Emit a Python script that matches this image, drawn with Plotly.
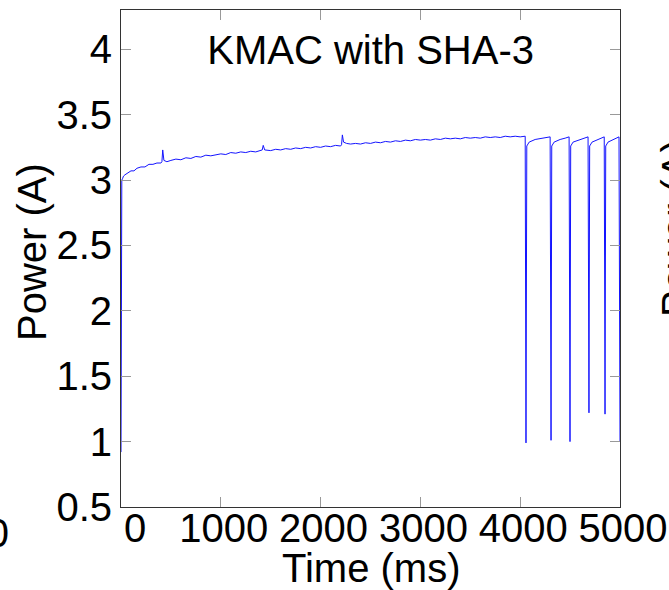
import plotly.graph_objects as go

# ---- data ----
time_ms = [0, 3, 8, 15, 25, 40, 60, 80, 100, 130, 160, 200, 240, 280, 320, 360, 400, 410, 418, 430, 460,
           500, 550, 600, 650, 700, 750, 800, 850, 900, 950, 1000, 1050, 1100, 1150, 1200, 1250, 1300,
           1350, 1400, 1415, 1425, 1440, 1500, 1550, 1600, 1650, 1700, 1750, 1800, 1850, 1900, 1950,
           2000, 2050, 2100, 2150, 2200, 2210, 2218, 2230, 2260, 2300, 2350, 2400, 2450, 2500, 2550,
           2600, 2650, 2700, 2750, 2800, 2850, 2900, 2950, 3000, 3050, 3100, 3150, 3200, 3250, 3300,
           3350, 3400, 3450, 3500, 3550, 3600, 3650, 3700, 3750, 3800, 3850, 3900, 3950, 4000, 4050,
           4058, 4066, 4090, 4150, 4200, 4250, 4300,
           4309, 4316, 4340, 4400, 4450, 4490,
           4499, 4506, 4530, 4600, 4650, 4680,
           4689, 4696, 4720, 4780, 4842,
           4850, 4857, 4880, 4930, 4990, 5000]
power_a = [0.92, 2.30, 3.00, 3.01, 3.03, 3.04, 3.05, 3.06, 3.07, 3.07, 3.09, 3.10, 3.10, 3.12, 3.12, 3.13, 3.13, 3.14, 3.23, 3.15, 3.14,
           3.15, 3.16, 3.155, 3.17, 3.165, 3.18, 3.175, 3.19, 3.185, 3.195, 3.20, 3.195, 3.21, 3.205, 3.215, 3.21, 3.22,
           3.215, 3.225, 3.23, 3.265, 3.23, 3.225, 3.235, 3.23, 3.24, 3.235, 3.245, 3.24, 3.25, 3.245, 3.255,
           3.25, 3.26, 3.255, 3.265, 3.26, 3.27, 3.345, 3.29, 3.28, 3.275, 3.28, 3.275, 3.285, 3.28, 3.29,
           3.285, 3.295, 3.29, 3.30, 3.295, 3.305, 3.30, 3.31, 3.305, 3.31, 3.305, 3.315, 3.31, 3.32, 3.315,
           3.32, 3.315, 3.325, 3.32, 3.325, 3.32, 3.33, 3.325, 3.33, 3.325, 3.335, 3.33, 3.335, 3.33, 3.335,
           0.99, 3.26, 3.29, 3.31, 3.315, 3.32, 3.33,
           1.01, 3.26, 3.29, 3.31, 3.32, 3.33,
           1.00, 3.26, 3.29, 3.31, 3.32, 3.33,
           1.22, 3.26, 3.29, 3.31, 3.33,
           1.21, 3.26, 3.29, 3.31, 3.33, 1.00]

x_ticks = [0, 1000, 2000, 3000, 4000, 5000]
x_ticktext = ["\u00a0\u00a00", "1000", "2000", "3000", "4000", "5000"]
y_ticks = [0.5, 1, 1.5, 2, 2.5, 3, 3.5, 4]
y_ticktext = ["0.5", "1", "1.5", "2", "2.5", "3", "3.5", "4"]
title_text = "KMAC with SHA-3"
x_title = "Time (ms)"
y_title = "Power (A)"

FONT = "Liberation Sans, Arial, sans-serif"

fig = go.Figure()
fig.add_trace(go.Scatter(x=time_ms, y=power_a, mode="lines",
                         line=dict(color="rgb(20,20,255)", width=1), showlegend=False))

fig.update_layout(
    width=669, height=590,
    margin=dict(l=121, r=49, t=10, b=83, autoexpand=False),
    paper_bgcolor="white", plot_bgcolor="white",
    font=dict(family=FONT, size=40, color="black"),
    title=dict(text=title_text, x=0.554, xref="container", xanchor="center",
               y=1 - 50 / 590, yref="container", yanchor="middle",
               font=dict(size=40, family=FONT, color="black")),
)
fig.update_xaxes(range=[0, 5000], tickvals=x_ticks, ticktext=x_ticktext,
                 ticks="inside", ticklen=10, tickcolor="#999", tickwidth=1,
                 ticklabelshift=3, ticklabelstandoff=-14, ticklabeloverflow="allow",
                 automargin=False,
                 showline=True, linecolor="#333", linewidth=1, mirror="ticks",
                 showgrid=False, zeroline=False,
                 showticklabels=True,
                 tickfont=dict(size=40))
fig.update_yaxes(range=[0.5, 4.3], tickvals=y_ticks, ticktext=y_ticktext,
                 ticks="inside", ticklen=10, tickcolor="#999", tickwidth=1,
                 automargin=False,
                 showline=True, linecolor="#333", linewidth=1, mirror="ticks",
                 showgrid=False, zeroline=False, tickfont=dict(size=40))

# axis titles
fig.add_annotation(text=x_title, xref="paper", yref="paper",
                   x=0.5, y=(507 - 568) / 497, xanchor="center", yanchor="middle",
                   showarrow=False, font=dict(size=40, family=FONT))
fig.add_annotation(text=y_title, textangle=-90, xref="paper", yref="paper",
                   x=(32 - 121) / 499, y=(507 - 252) / 497, xanchor="center", yanchor="middle",
                   showarrow=False, font=dict(size=40, family=FONT))
# partial labels of neighbouring panels visible at the picture edges
fig.add_annotation(text="5000", xref="paper", yref="paper",
                   x=(11 - 121) / 499, y=(507 - 533) / 497, xanchor="right", yanchor="middle",
                   showarrow=False, font=dict(size=40, family=FONT))
fig.add_annotation(text=y_title, textangle=-90, xref="paper", yref="paper",
                   x=(676 - 121) / 499, y=(507 - 228) / 497, xanchor="center", yanchor="middle",
                   showarrow=False, font=dict(size=40, family=FONT))

fig.write_html("out.html")
